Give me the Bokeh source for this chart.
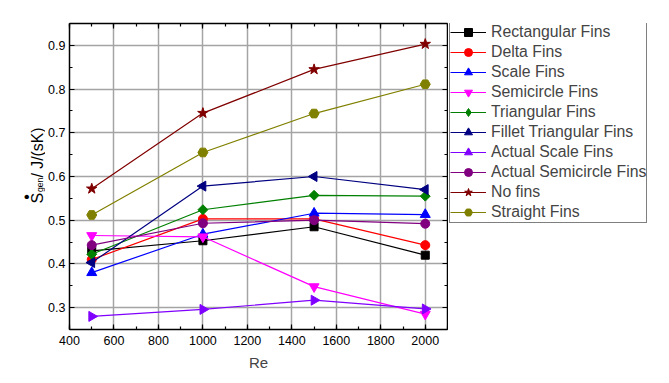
import math
from bokeh.plotting import figure
from bokeh.layouts import row
from bokeh.models import (Range1d, LinearAxis, SingleIntervalTicker, Legend, LegendItem)
from bokeh.core.properties import value
from bokeh.embed import file_html
from bokeh.resources import INLINE

re_vals = [500, 1000, 1500, 2000]
series_names = ["Rectangular Fins", "Delta Fins", "Scale Fins", "Semicircle Fins",
                "Triangular Fins", "Fillet Triangular Fins", "Actual Scale Fins",
                "Actual Semicircle Fins", "No fins", "Straight Fins"]
rectangular = [0.430, 0.453, 0.485, 0.420]
delta = [0.410, 0.503, 0.503, 0.443]
scale = [0.380, 0.468, 0.516, 0.513]
semicircle = [0.465, 0.462, 0.348, 0.285]
triangular = [0.422, 0.524, 0.557, 0.555]
fillet_triangular = [0.403, 0.578, 0.600, 0.570]
actual_scale = [0.280, 0.296, 0.317, 0.297]
actual_semicircle = [0.443, 0.493, 0.500, 0.492]
no_fins = [0.572, 0.745, 0.845, 0.903]
straight = [0.512, 0.655, 0.744, 0.811]
series_values = [rectangular, delta, scale, semicircle, triangular, fillet_triangular,
                 actual_scale, actual_semicircle, no_fins, straight]

colors = ["#000000", "#FF0000", "#0000FF", "#FF00FF", "#008000", "#000080",
          "#8000FF", "#800080", "#800000", "#808000"]
markers = ["square", "circle", "triangle", "inverted_triangle", "square", "triangle",
           "triangle", "circle", "star", "hex"]
legend_markers = ["square", "circle", "triangle", "inverted_triangle", "diamond", "triangle",
                  "triangle", "circle", "star", "hex"]
angles = [0, 0, 0, 0, math.pi / 4, math.pi / 2, -math.pi / 2, 0, 0, 0]
sizes = [8, 9, 10, 10, 7, 10, 10, 9, 11, 10]

FONT = "Liberation Sans"
H = 375
TOP, BOTTOM = 23, 46       # borders shared by all three figures (frames align in a row)
WL = 45                    # strip holding the y-axis title
WM = 447 - WL + 1          # main plot
WG = 205                   # legend strip
XMIN, XMAX, YMIN, YMAX = 400, 2100, 0.25, 0.95

# ---- strip with the composed y-axis title (S-dot, subscript "gen", unit) ----
# y coordinates of this strip are minus the picture's pixel row
lab = figure(width=WL, height=H, output_backend="svg", toolbar_location=None,
             x_range=Range1d(0, WL), y_range=Range1d(-(H - BOTTOM), -TOP),
             x_axis_location=None, y_axis_location=None,
             min_border_left=0, min_border_right=0, min_border_top=TOP, min_border_bottom=BOTTOM,
             outline_line_color=None)
lab.grid.visible = False
common = dict(angle=math.pi / 2, text_font=value(FONT), text_color="black",
              text_baseline="alphabetic")
lab.text(x=[37], y=[-203], text=["S"], text_font_size="16px", text_align="left", **common)
lab.text(x=[39], y=[-191.5], text=["gen"], text_font_size="8.5px", text_align="left", **common)
lab.text(x=[36.5], y=[-177], text=["/ J/(sK)"], text_font_size="15.8px", text_align="left", **common)
lab.text(x=[26], y=[-196.5], text=["\u2022"], text_font_size="16px", text_align="center", **common)

# ---- main plot ----
p = figure(width=WM, height=H, output_backend="svg", toolbar_location=None,
           x_range=Range1d(XMIN, XMAX), y_range=Range1d(YMIN, YMAX),
           min_border_left=67 - WL, min_border_right=1, min_border_top=TOP, min_border_bottom=BOTTOM)
p.outline_line_color = None

xt = SingleIntervalTicker(interval=200, num_minor_ticks=2)
yt = SingleIntervalTicker(interval=0.1, num_minor_ticks=2)
p.xaxis.ticker = xt
p.yaxis.ticker = yt
p.xgrid.ticker = xt
p.ygrid.ticker = yt
for g in (p.xgrid, p.ygrid):
    g.grid_line_color = "#a4a4a4"
    g.grid_line_width = 1.5

def style_axis(ax, labels=True):
    ax.axis_line_width = 1.5
    ax.axis_line_color = "black"
    ax.major_tick_in = 5
    ax.major_tick_out = 0
    ax.minor_tick_in = 3
    ax.minor_tick_out = 0
    ax.major_tick_line_width = 1.2
    ax.minor_tick_line_width = 1.2
    ax.major_label_text_font = FONT
    if labels:
        ax.major_label_text_font_size = "12.5px"
        ax.major_label_text_color = "black"
    else:
        ax.major_label_text_font_size = "1px"
        ax.major_label_text_color = None
        ax.major_label_standoff = 0

style_axis(p.xaxis[0])
style_axis(p.yaxis[0])
p.xaxis.major_label_standoff = 6
p.yaxis.major_label_standoff = 4
p.xaxis.axis_label = "Re"
p.xaxis.axis_label_text_font = FONT
p.xaxis.axis_label_text_font_size = "15px"
p.xaxis.axis_label_text_font_style = "normal"
p.xaxis.axis_label_standoff = 6

top = LinearAxis(ticker=xt)
right = LinearAxis(ticker=yt)
style_axis(top, False)
style_axis(right, False)
p.add_layout(top, "above")
p.add_layout(right, "right")

for vals, c, m, a, s in zip(series_values, colors, markers, angles, sizes):
    p.line(re_vals, vals, line_color=c, line_width=1.2)
    p.scatter(re_vals, vals, marker=m, angle=a, size=s, fill_color=c, line_color=c)

# ---- legend strip (legend sits outside the main frame in the reference) ----
# the same series are drawn here outside this strip's ranges, so only the legend shows
leg = figure(width=WG, height=H, output_backend="svg", toolbar_location=None,
             x_range=Range1d(0, 1), y_range=Range1d(0, 1),
             x_axis_location=None, y_axis_location=None,
             min_border_left=0, min_border_right=0, min_border_top=TOP, min_border_bottom=BOTTOM,
             outline_line_color=None)
leg.grid.visible = False
items = []
for name, vals, c, m, a, s in zip(series_names, series_values, colors, legend_markers, angles, sizes):
    r1 = leg.line(re_vals, vals, line_color=c, line_width=1.2)
    r2 = leg.scatter(re_vals, vals, marker=m, angle=a, size=s, fill_color=c, line_color=c)
    items.append(LegendItem(label=name, renderers=[r1, r2]))

legend = Legend(items=items, location=(1, (H - BOTTOM) - 223))
legend.label_text_font = FONT
legend.label_text_font_size = "15.8px"
legend.label_height = 20
legend.glyph_height = 20
legend.glyph_width = 36
legend.spacing = 0
legend.padding = 0
legend.margin = 0
legend.label_standoff = 5
legend.border_line_color = "black"
legend.border_line_width = 1.2
legend.background_fill_alpha = 1
leg.add_layout(legend, "center")

open("out.html", "w").write(file_html(row(lab, p, leg), INLINE))
